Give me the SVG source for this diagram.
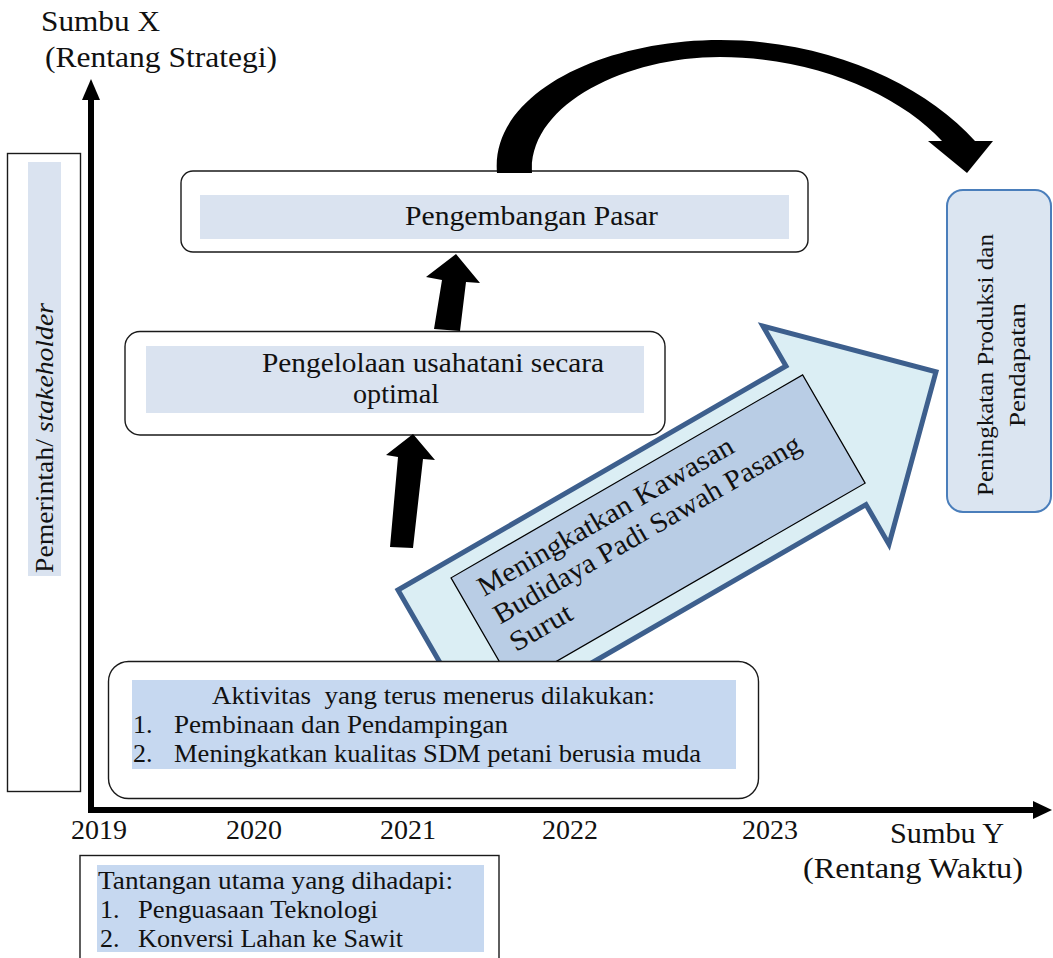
<svg xmlns="http://www.w3.org/2000/svg" width="1053" height="958" viewBox="0 0 1053 958">
<defs>
<style>
text{font-family:"Liberation Serif","Times New Roman",serif;fill:#111}
.t30{font-size:30px}
.t28{font-size:28px}
.t26{font-size:26px}
.t24{font-size:24px}
.box{fill:#fff;stroke:#1a1a1a;stroke-width:1.4}
.hl{fill:#dae3f0}
.hl2{fill:#c6d8f0}
.blk{fill:#000}
</style>
</defs>
<rect width="1053" height="958" fill="#fff"/>

<g id="axes">
<line x1="91" y1="98" x2="91" y2="813" stroke="#000" stroke-width="6"/>
<polygon class="blk" points="82,100 100,100 91,79"/>
<line x1="88" y1="810" x2="1035" y2="810" stroke="#000" stroke-width="6"/>
<polygon class="blk" points="1033,801 1033,819 1052,810"/>
<text class="t30" x="41" y="31" textLength="119" lengthAdjust="spacingAndGlyphs">Sumbu X</text>
<text class="t30" x="45" y="67" textLength="232" lengthAdjust="spacingAndGlyphs">(Rentang Strategi)</text>
<text class="t28" x="71" y="839">2019</text>
<text class="t28" x="226" y="839">2020</text>
<text class="t28" x="380" y="839">2021</text>
<text class="t28" x="542" y="839">2022</text>
<text class="t28" x="742" y="839">2023</text>
<text class="t30" x="890" y="843" textLength="114" lengthAdjust="spacingAndGlyphs">Sumbu Y</text>
<text class="t30" x="803" y="878" textLength="220" lengthAdjust="spacingAndGlyphs">(Rentang Waktu)</text>
</g>

<g id="stakeholder">
<rect class="box" x="7.5" y="153.5" width="73" height="638"/>
<rect class="hl" x="28" y="162" width="33" height="414"/>
<text class="t26" transform="translate(53,573) rotate(-90)" textLength="270" lengthAdjust="spacingAndGlyphs">Pemerintah/ <tspan font-style="italic">stakeholder</tspan></text>
</g>

<g id="strategi-arrow">
<g transform="translate(398,590) rotate(-30)">
<polygon points="0,0 448,0 448,-46 575,80 448,206 448,160 0,160" fill="#dbeef4" stroke="#3d5f8d" stroke-width="5" stroke-linejoin="miter"/>
<rect x="52" y="16" width="406" height="125" fill="#b9cde5" stroke="#000" stroke-width="1.2"/>
<text class="t28" x="71" y="49" textLength="291" lengthAdjust="spacingAndGlyphs">Meningkatkan Kawasan</text>
<text class="t28" x="71" y="81" textLength="350" lengthAdjust="spacingAndGlyphs">Budidaya Padi Sawah Pasang</text>
<text class="t28" x="71" y="113" textLength="68" lengthAdjust="spacingAndGlyphs">Surut</text>
</g>
</g>

<g id="pasar">
<rect class="box" x="181" y="171" width="627" height="81" rx="12"/>
<rect class="hl" x="200" y="195" width="589" height="44"/>
<text class="t28" x="405" y="225" textLength="253" lengthAdjust="spacingAndGlyphs">Pengembangan Pasar</text>
</g>

<g id="usahatani">
<rect class="box" x="125" y="331.5" width="540" height="103.5" rx="15"/>
<rect class="hl" x="146" y="346" width="498" height="67"/>
<text class="t28" x="262" y="372" textLength="342" lengthAdjust="spacingAndGlyphs">Pengelolaan usahatani secara</text>
<text class="t28" x="353" y="403" textLength="86" lengthAdjust="spacingAndGlyphs">optimal</text>
</g>

<g id="aktivitas">
<rect class="box" x="108.5" y="661.5" width="650" height="137" rx="20"/>
<rect class="hl2" x="132" y="680" width="604" height="89"/>
<text class="t26" x="212" y="704" textLength="443" lengthAdjust="spacingAndGlyphs" style="white-space:pre">Aktivitas  yang terus menerus dilakukan:</text>
<text class="t26" x="133" y="733">1.</text>
<text class="t26" x="174" y="733" textLength="334" lengthAdjust="spacingAndGlyphs">Pembinaan dan Pendampingan</text>
<text class="t26" x="133" y="762">2.</text>
<text class="t26" x="174" y="762" textLength="527" lengthAdjust="spacingAndGlyphs">Meningkatkan kualitas SDM petani berusia muda</text>
</g>

<g id="tantangan">
<rect class="box" x="80" y="855.5" width="419" height="110"/>
<rect class="hl2" x="97" y="865" width="387" height="87"/>
<text class="t26" x="98" y="889" textLength="355" lengthAdjust="spacingAndGlyphs">Tantangan utama yang dihadapi:</text>
<text class="t26" x="100" y="918">1.</text>
<text class="t26" x="138" y="918" textLength="240" lengthAdjust="spacingAndGlyphs">Penguasaan Teknologi</text>
<text class="t26" x="100" y="947">2.</text>
<text class="t26" x="138" y="947" textLength="265" lengthAdjust="spacingAndGlyphs">Konversi Lahan ke Sawit</text>
</g>

<g id="hasil">
<rect x="947" y="190" width="104" height="322" rx="16" fill="#dbe5f1" stroke="#4a7ebb" stroke-width="2"/>
<text class="t24" transform="translate(993,365) rotate(-90)" text-anchor="middle" textLength="262" lengthAdjust="spacingAndGlyphs">Peningkatan Produksi dan</text>
<text class="t24" transform="translate(1025,365) rotate(-90)" text-anchor="middle" textLength="124" lengthAdjust="spacingAndGlyphs">Pendapatan</text>
</g>

<g id="connectors">
<path class="blk" d="M 497 173 C 490 95, 600 40, 720 40 C 830 40, 925 85, 975 141 L 993 141 L 967 173 L 928 141 L 942 141 C 900 95, 815 57, 720 57 C 625 57, 528 105, 532 173 Z"/>
<polygon class="blk" points="456,254 480,283 466,282 460,331 434,329 442,280 426,277"/>
<polygon class="blk" points="413,434 435,460 423,459 413,548 390,547 398,457 386,455"/>
</g>
</svg>
